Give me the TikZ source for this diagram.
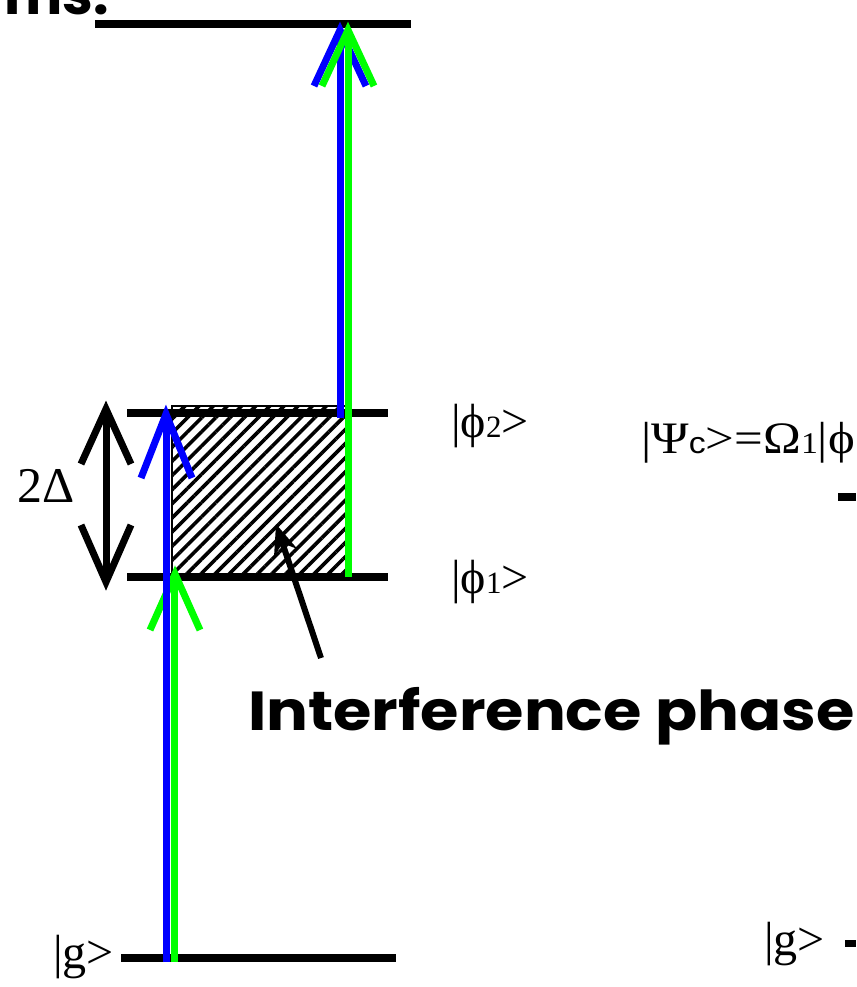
\documentclass[tikz,border=0pt]{standalone}
\usepackage{fontspec}
\usepackage{graphicx}
\setmainfont{Liberation Serif}
\newfontfamily\comic{Poppins}
\newfontfamily\arialf{Liberation Sans}
\usetikzlibrary{arrows.meta,patterns.meta}
\definecolor{beamblue}{RGB}{0,0,255}
\definecolor{beamgreen}{RGB}{0,255,0}
\begin{document}
\begin{tikzpicture}[x=1pt,y=-1pt,
  level/.style={line width=8pt},
  beam/.style={line width=7pt},
  lab/.style={anchor=base west,inner sep=0pt,font=\fontsize{48}{48}\selectfont},
  comictext/.style={anchor=base west,inner sep=0pt,font=\comic\bfseries\fontsize{55}{55}\selectfont}]
\useasboundingbox (0,0) rectangle (856,987);
% coordinates
\coordinate (topL) at (95,24.5);  \coordinate (topR) at (411,24.5);
\coordinate (p2L) at (127,413);   \coordinate (p2R) at (388,413);
\coordinate (p1L) at (127,577);   \coordinate (p1R) at (388,577);
\coordinate (gL) at (121,958);    \coordinate (gR) at (396,958);
\coordinate (hatchA) at (172,406); \coordinate (hatchB) at (346,577);
% hatched region
\path[pattern={Lines[angle=45,distance=10pt,line width=3.6pt]}] (hatchA) rectangle (hatchB);
\draw[line width=1.5pt] (172,577) -- (hatchA) -- (346,406);
% levels
\draw[level] (topL) -- (topR);
\draw[level] (p2L) -- (p2R);
\draw[level] (p1L) -- (p1R);
\draw[level] (gL) -- (gR);
\draw[level] (838,497) -- (856,497);
\draw[line width=7pt] (845,943) -- (856,943);
% upper beams
\coordinate (ub0) at (340,418); \coordinate (ub1) at (340,30);
\coordinate (ug0) at (348,577); \coordinate (ug1) at (348,30);
\draw[beam,beamblue] (ub0) -- (ub1);
\draw[beam,beamblue] ([shift={(-26,56)}]ub1) -- (ub1) -- ++(26,56);
\draw[beam,beamgreen] (ug0) -- (ug1);
\draw[beam,beamgreen] ([shift={(-26,56)}]ug1) -- (ug1) -- ++(26,56);
% lower beams
\coordinate (lg0) at (174,962); \coordinate (lg1) at (175,574);
\coordinate (lb0) at (166,962); \coordinate (lb1) at (166,414);
\draw[beam,beamgreen] (lg0) -- (174,574);
\draw[beam,beamgreen] ([shift={(-25,56)}]lg1) -- (lg1) -- ++(25,56);
\draw[beam,beamblue] (lb0) -- (lb1);
\draw[beam,beamblue] ([shift={(-25,64)}]lb1) -- (lb1) -- ++(26,64);
% 2Delta arrow
\coordinate (dT) at (106,409); \coordinate (dB) at (106,582);
\draw[beam] (dT) -- (dB);
\draw[beam] ([shift={(-25,55)}]dT) -- (dT) -- ++(25,55);
\draw[beam] ([shift={(-25,-57)}]dB) -- (dB) -- ++(25,-57);
\node[anchor=base west,inner sep=0pt,font=\fontsize{50}{50}\selectfont] (delta) at (17,502) {2Δ};
% labels
\node[lab] (phi2) at (451,437) {|ϕ{\fontsize{31}{31}\selectfont 2}>};
\node[lab] (phi1) at (451,593) {|ϕ{\fontsize{31}{31}\selectfont 1}>};
\node[lab] (gleft) at (53,968) {|g>};
\node[lab] (gright) at (764,955) {|g>};
\node[anchor=base west,inner sep=0pt,font=\fontsize{45}{45}\selectfont] (psic) at (641,453)
  {\scalebox{1.13}[1]{|Ψ{\arialf\fontsize{30}{30}\selectfont c}>=Ω{\fontsize{30}{30}\selectfont 1}|ϕ}};
% comic texts
\node[comictext] (ms) at (4,15) {ms.};
\node[comictext] (interf) at (248,730) {\scalebox{1.13}[1]{Interference phase}};
\coordinate (ptail) at (321,658); \coordinate (ptip) at (276,524);
\draw[line width=6pt,-{Stealth[length=30pt,width=24pt]}] (ptail) -- (ptip);
\end{tikzpicture}
\end{document}
